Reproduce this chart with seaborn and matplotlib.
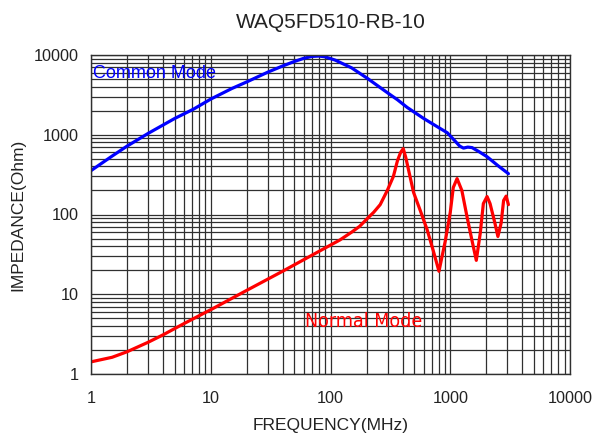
"""
Impedance vs frequency chart for WAQ5FD510-RB-10.
"""

############
# IMPORTS #
############

import matplotlib
matplotlib.use('Agg')
import matplotlib.pyplot as plt
from matplotlib.ticker import LogLocator, FixedLocator, NullFormatter
import seaborn as sns

########
# DATA #
########

title = 'WAQ5FD510-RB-10'

# Common mode impedance
cm_freq = [1, 1.5, 2, 3, 5, 7.2, 10, 15, 20, 30, 40, 50, 60, 70, 80, 90, 110,
           150, 203, 300, 362, 437, 600, 830, 944, 1100, 1200, 1290, 1400,
           1520, 1750, 2030, 2500, 3060]
cm_imp = [355, 540, 720, 1040, 1600, 2100, 2800, 3800, 4600, 6100, 7300, 8300,
          9100, 9600, 9700, 9500, 8600, 6900, 5100, 3350, 2750, 2200, 1600,
          1190, 1060, 830, 720, 680, 700, 690, 610, 530, 410, 325]

# Normal mode impedance
nm_freq = [1, 1.5, 2, 3, 4, 6, 8.8, 10, 20, 40, 83, 120, 150, 175, 203, 230,
           260, 298, 335, 362, 385, 405, 425, 494, 562, 640, 720, 805, 910,
           1000, 1060, 1140, 1250, 1380, 1520, 1650, 1780, 1890, 2030, 2150,
           2360, 2500, 2660, 2790, 2930, 3060]
nm_imp = [1.42, 1.62, 1.9, 2.5, 3.1, 4.3, 5.8, 6.4, 11.2, 19.5, 35.5, 48, 60,
          71, 89, 107, 133, 200, 300, 470, 600, 670, 520, 189, 112, 65, 35.5,
          19.4, 47, 106, 218, 282, 200, 94, 47, 26.6, 58, 137, 168, 137, 78,
          53, 78, 150, 170, 133]

x_ticks = [1, 10, 100, 1000, 10000]
y_ticks = [1, 10, 100, 1000, 10000]

########
# PLOT #
########

sns.set_style('white')
plt.rcParams['font.family'] = ['Liberation Sans', 'DejaVu Sans']

fig = plt.figure(figsize=(5.94, 4.33), dpi=100)
ax = fig.add_axes([91 / 594, 1 - 374 / 433, 479 / 594, 319 / 433])

sns.lineplot(x=cm_freq, y=cm_imp, color='#0000ff', linewidth=2.3,
             sort=False, estimator=None, ax=ax)
sns.lineplot(x=nm_freq, y=nm_imp, color='#ff0000', linewidth=2.3,
             sort=False, estimator=None, ax=ax)

ax.set_xscale('log')
ax.set_yscale('log')
ax.set_xlim(1, 10000)
ax.set_ylim(1, 10000)

# Ticks and grid
ax.xaxis.set_major_locator(FixedLocator(x_ticks))
ax.yaxis.set_major_locator(FixedLocator(y_ticks))
ax.set_xticklabels([str(t) for t in x_ticks])
ax.set_yticklabels([str(t) for t in y_ticks])
ax.xaxis.set_minor_locator(LogLocator(base=10, subs=range(2, 10)))
ax.yaxis.set_minor_locator(LogLocator(base=10, subs=range(2, 10)))
ax.xaxis.set_minor_formatter(NullFormatter())
ax.yaxis.set_minor_formatter(NullFormatter())
ax.grid(True, which='both', color='#303030', linewidth=0.9)
ax.tick_params(which='both', length=0, labelsize=11.7, colors='#222222')
ax.tick_params(axis='x', pad=12)
ax.tick_params(axis='y', pad=9)

for spine in ax.spines.values():
    spine.set_color('#303030')
    spine.set_linewidth(1.0)

# Labels
ax.set_xlabel('FREQUENCY(MHz)', fontsize=12.5, color='#222222', labelpad=9)
ax.set_ylabel('IMPEDANCE(Ohm)', fontsize=12.5, color='#222222', labelpad=6)
fig.text(330.5 / 594, 1 - 22 / 433, title, fontsize=15, color='#222222',
         ha='center', va='center')

# Series annotations
ax.text(1.04, 5940, 'Common Mode', color='#0000ff', fontsize=13,
        ha='left', va='center')
ax.text(190, 4.5, 'Normal Mode', color='#ff0000', fontsize=14,
        family=['Liberation Sans Narrow', 'DejaVu Sans'], fontstretch='condensed',
        ha='center', va='center')

plt.savefig('out.png', dpi=100)
